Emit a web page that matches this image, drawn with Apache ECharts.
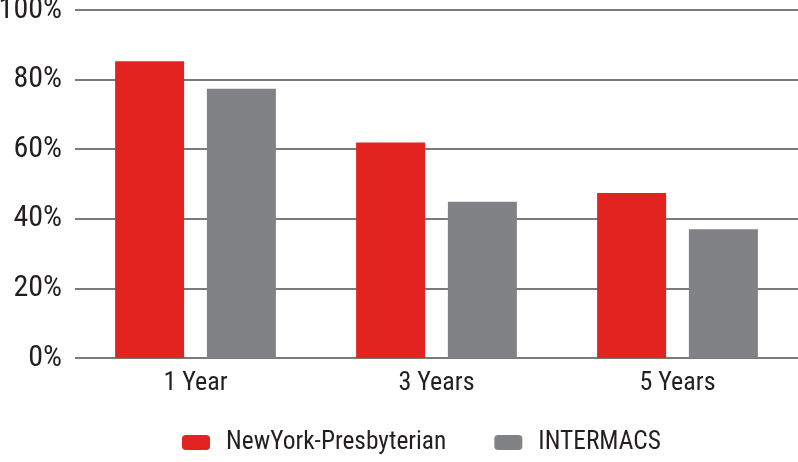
<!DOCTYPE html>
<html><head><meta charset="utf-8">
<script src="https://cdn.jsdelivr.net/npm/echarts@6/dist/echarts.min.js"></script>
<style>html,body{margin:0;padding:0;background:#fff}#c{width:798px;height:462px}</style>
</head><body><div id="c"></div>
<script>
const categories = ['1 Year', '3 Years', '5 Years'];
const nyp = [85.3, 61.9, 47.4];
const intermacs = [77.4, 44.9, 37.0];
const seriesNames = ['NewYork-Presbyterian', 'INTERMACS'];
const FONT = '"Liberation Sans Narrow", "Roboto Condensed", "Liberation Sans", sans-serif';
const chart = echarts.init(document.getElementById('c'));
chart.setOption({
  animation: false,
  grid: {left: 75, right: 0, top: 10, bottom: 104, containLabel: false, outerBoundsMode: 'none'},
  legend: {
    top: 425, left: 177, itemWidth: 28, itemHeight: 15, itemGap: 48,
    textStyle: {fontFamily: FONT, fontSize: 25.4, color: '#231f20', padding: [0, 0, 0, 11]},
    data: seriesNames
  },
  xAxis: {
    type: 'category', data: categories,
    axisLine: {show: false}, axisTick: {show: false},
    axisLabel: {fontFamily: FONT, fontSize: 26, color: '#231f20', margin: 12}
  },
  yAxis: {
    type: 'value', min: 0, max: 100, interval: 20,
    axisLabel: {formatter: '{value}%', fontFamily: FONT, fontSize: 30, color: '#231f20', margin: 13},
    axisLine: {show: false}, axisTick: {show: false},
    splitLine: {lineStyle: {color: '#7a7a7c', width: 2}}
  },
  series: [
    {name: seriesNames[0], type: 'bar', data: nyp, barWidth: 69, barGap: '33%',
     itemStyle: {color: '#e2231f'}},
    {name: seriesNames[1], type: 'bar', data: intermacs, barWidth: 69,
     itemStyle: {color: '#808285'}}
  ]
});
</script></body></html>
